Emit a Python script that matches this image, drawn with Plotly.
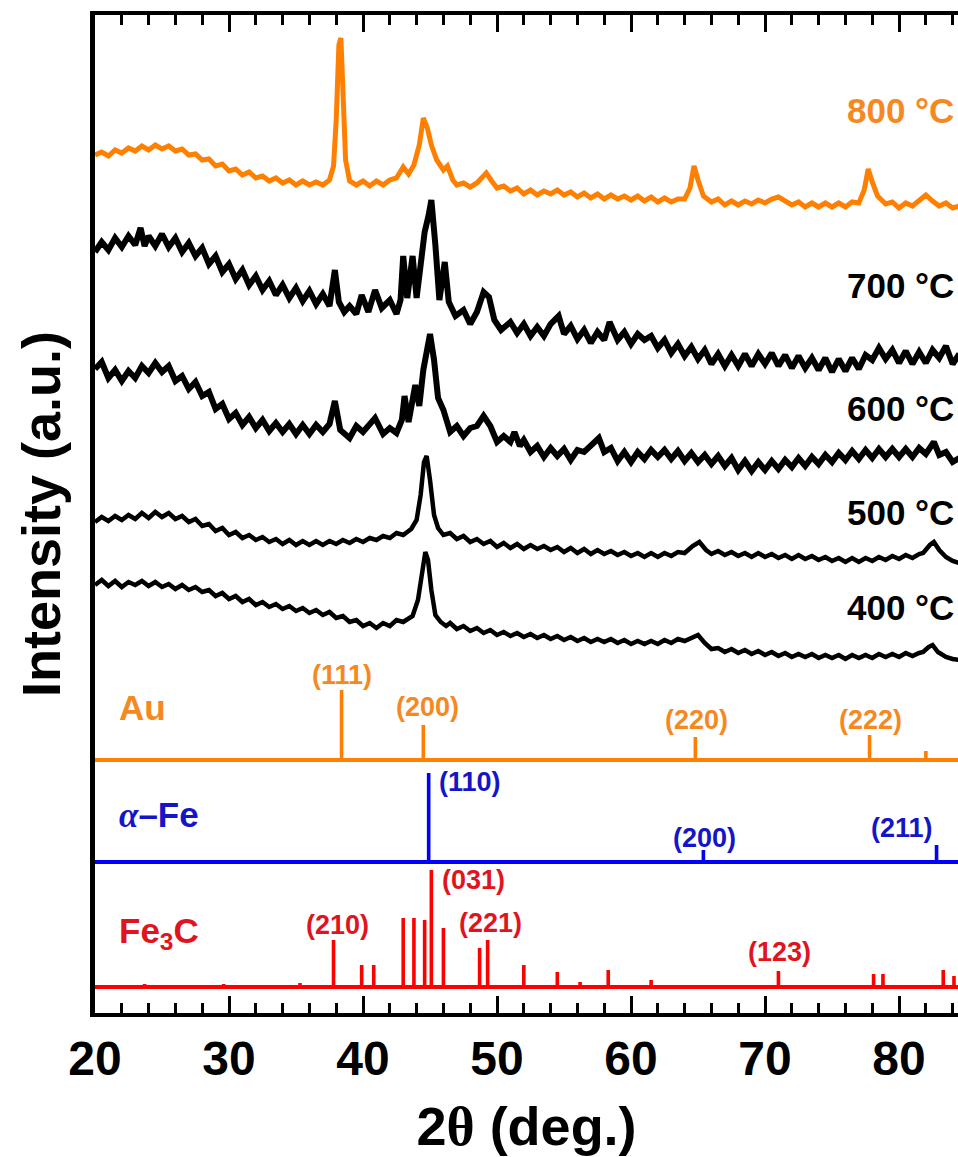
import plotly.graph_objects as go

# ---------------- data (2theta in degrees, intensity in arbitrary offset units) ----------------
tt_800 = [20,20.5,21,21.5,22,22.5,23,23.5,24,24.5,25,25.5,26,26.5,27,27.5,28,28.5,29,29.5,30,30.5,31,31.5,32,32.5,33,33.5,34,34.5,35,35.5,36,36.5,37,37.5,
          37.8,38.0,38.2,38.35,38.5,38.7,39,39.5,40,40.5,41,41.5,42,42.5,43,43.4,43.8,44.2,44.5,44.8,45.1,45.5,46,46.3,46.7,47,47.5,48,48.5,48.8,49.2,49.6,
          50,50.5,51,51.5,52,52.5,53,53.5,54,54.5,55,55.5,56,56.5,57,57.5,58,58.5,59,59.5,60,60.5,61,61.5,62,62.5,63,63.5,64,64.4,64.7,65.0,65.4,
          66,66.5,67,67.5,68,68.5,69,69.5,70,70.5,71,71.5,72,72.5,73,73.5,74,74.5,75,75.5,76,76.5,77,77.4,77.7,78.0,78.4,
          79,79.5,80,80.5,81,81.5,82,82.5,83,83.5,84,84.5]
int_800 = [858,861,857,863,860,865,862,867,863,868,864,867,862,864,858,859,853,854,847,849,842,844,838,841,835,837,832,835,830,833,828,832,828,831,828,833,
           847,893,968,975,923,853,832,828,832,827,832,828,833,835,846,839,848,868,895,885,868,853,843,847,833,828,830,826,830,834,840,832,
           825,827,822,825,819,823,818,822,819,823,818,821,816,820,815,819,814,818,814,817,813,817,812,816,811,815,811,814,814,825,847,833,817,
           811,814,808,812,808,812,809,813,810,814,816,812,808,811,806,810,806,810,806,810,806,811,810,823,844,831,817,
           809,811,805,810,807,813,818,812,807,810,805,807]

tt_700 = [20,20.5,21,21.5,22,22.5,23,23.4,23.7,24,24.5,25,25.5,26,26.5,27,27.5,28,28.5,29,29.5,30,30.5,31,31.5,32,32.5,33,33.5,34,34.5,35,35.5,36,36.5,37,37.5,
          37.9,38.2,38.6,39,39.5,39.9,40.4,40.9,41.4,42,42.5,42.8,43.0,43.3,43.7,44.0,44.3,44.6,44.9,45.1,45.4,45.7,46.1,46.4,46.9,47.5,48,48.5,
          49.0,49.4,49.8,50.3,51,51.5,52,52.5,53,53.5,54,54.6,55,55.5,56,56.5,57,57.5,58,58.4,
          59,59.5,60,60.5,61,61.5,62,62.5,63,63.5,64,64.5,65,65.5,66,66.5,67,67.5,68,68.5,69,69.5,70,70.5,71,71.5,72,72.5,73,73.5,
          74,74.5,75,75.5,76,76.5,77,77.5,78,78.5,79,79.5,80,80.5,81,81.5,82,82.5,83,83.5,84,84.5]
int_700 = [761,771,763,775,766,777,768,785,767,777,767,779,766,775,761,770,757,765,749,757,741,749,734,743,728,737,723,732,718,728,715,725,712,722,709,719,707,
           743,711,701,707,699,718,701,723,705,713,699,713,757,715,757,715,745,781,798,813,768,713,751,711,697,703,689,701,
           721,716,693,683,691,680,689,677,686,677,689,697,679,687,674,683,670,681,673,691,
           673,681,669,679,673,677,665,673,660,669,657,666,654,663,649,659,647,658,647,659,647,659,649,660,647,658,645,657,645,655,
           643,655,641,654,642,655,644,658,653,665,654,663,650,662,649,661,650,663,655,667,649,659]

tt_600 = [20,20.5,21,21.5,22,22.5,23,23.5,24,24.5,25,25.5,26,26.5,27,27.5,28,28.5,29,29.5,30,30.5,31,31.5,32,32.5,33,33.5,34,34.5,35,35.5,36,36.5,37,37.5,
          37.9,38.3,39,39.5,40,40.5,40.9,41.5,42,42.5,42.9,43.1,43.4,43.9,44.2,44.5,44.8,45.0,45.3,45.6,46.0,46.5,47,47.5,48,48.5,49.0,49.5,50,50.5,51,
          51.3,51.7,52,52.5,53,53.5,54,54.5,55,55.5,56,56.5,57,57.6,
          58,58.5,59,59.5,60,60.5,61,61.5,62,62.5,63,63.5,64,64.5,65,65.5,66,66.5,67,67.5,68,68.5,69,69.5,70,70.5,71,71.5,72,72.5,
          73,73.5,74,74.5,75,75.5,76,76.5,77,77.5,78,78.5,79,79.5,80,80.5,81,81.5,82,82.6,83,83.5,84,84.5]
int_600 = [644,651,635,643,632,642,635,647,640,650,641,647,632,637,624,631,617,621,604,609,594,600,588,596,585,593,582,590,581,589,579,588,579,588,581,589,
           612,583,575,587,581,588,595,579,585,580,593,617,591,628,607,643,668,679,653,615,603,581,587,577,585,587,597,587,571,577,571,
           581,567,573,561,567,556,565,557,564,553,563,561,568,575,
           561,565,552,561,551,561,554,563,556,563,554,562,552,560,551,558,549,557,547,555,543,552,542,551,543,552,544,553,546,555,
           547,556,549,558,551,560,553,562,554,563,555,564,556,564,556,564,556,565,559,571,558,561,551,555]

tt_500 = [20,20.5,21,21.5,22,22.5,23,23.5,24,24.5,25,25.5,26,26.5,27,27.5,28,28.5,29,29.5,30,30.5,31,31.5,32,32.5,33,33.5,34,34.5,35,35.5,36,36.5,37,37.5,
          38,38.5,39,39.5,40,40.5,41,41.5,42,42.5,43,43.6,44.0,44.3,44.55,44.75,45.0,45.3,45.6,
          46,46.5,47,47.5,48,48.5,49,49.5,50,50.5,51,51.5,52,52.5,53,53.5,54,54.5,55,55.5,56,56.5,57,57.5,58,58.5,59,59.5,60,60.5,61,61.5,62,62.5,63,63.5,64,
          64.6,65.1,65.6,66,66.5,67,67.5,68,68.5,69,69.5,70,70.5,71,71.5,72,72.5,73,73.5,74,74.5,75,75.5,76,76.5,77,77.5,78,78.5,79,79.5,80,80.5,81,81.5,
          81.8,82.3,82.6,83,83.5,84,84.5]
int_500 = [491,496,492,497,493,498,494,500,495,501,496,500,494,497,491,494,487,489,482,485,478,481,475,478,473,476,471,474,469,473,468,472,468,472,468,472,
           469,473,470,474,471,475,473,477,475,480,478,484,493,518,551,557,533,498,485,
           478,480,474,477,471,474,469,472,466,470,465,469,464,468,464,467,463,466,461,465,460,464,459,463,459,462,458,461,457,460,456,460,456,460,457,461,460,
           467,471,463,459,462,458,461,457,460,456,460,456,459,455,458,454,458,454,457,453,456,452,455,451,455,451,455,452,456,453,457,454,458,455,459,
           460,468,471,463,456,452,450]

tt_400 = [20,20.5,21,21.5,22,22.5,23,23.5,24,24.5,25,25.5,26,26.5,27,27.5,28,28.5,29,29.5,30,30.5,31,31.5,32,32.5,33,33.5,34,34.5,35,35.5,36,36.5,37,37.5,
          38,38.5,39,39.5,40,40.5,41,41.5,42,42.5,43,43.7,44.1,44.4,44.65,44.85,45.1,45.4,45.8,46.2,46.5,
          47,47.5,48,48.5,49,49.5,50,50.5,51,51.5,52,52.5,53,53.5,54,54.5,55,55.5,56,56.5,57,57.5,58,58.5,59,59.5,60,60.5,61,61.5,62,62.5,63,63.5,64,
          64.6,65.0,65.5,66,66.5,67,67.5,68,68.5,69,69.5,70,70.5,71,71.5,72,72.5,73,73.5,74,74.5,75,75.5,76,76.5,77,77.5,78,78.5,79,79.5,80,80.5,81,81.5,
          81.8,82.2,82.5,82.9,83.5,84,84.5]
int_400 = [428,433,427,432,426,431,428,432,427,431,426,429,424,428,423,426,421,423,417,420,414,417,411,414,408,411,406,409,404,407,402,405,400,403,398,401,
           395,397,391,393,387,390,385,390,387,393,391,397,413,443,461,453,423,398,391,387,390,
           384,387,382,385,380,383,378,381,377,380,376,379,375,378,374,377,373,376,372,375,371,374,371,374,370,373,369,372,369,372,369,373,370,374,372,
           376,378,370,364,365,361,364,360,363,359,362,358,361,357,360,356,359,356,359,355,358,355,358,354,358,355,358,355,359,356,359,356,360,357,360,
           361,366,368,361,356,354,353]

temp_labels = ["800 °C", "700 °C", "600 °C", "500 °C", "400 °C"]
temp_label_int = [903, 728, 605, 501, 406]

# reference stick patterns
au_pos = [38.4, 44.5, 64.8, 77.8, 82.0]
au_int = [70, 35, 23, 25, 9]
au_hkl = ["(111)", "(200)", "(220)", "(222)"]
au_hkl_pos = [38.45, 44.8, 64.9, 77.9]
au_hkl_int = [338, 306, 293, 293]

fe_pos = [44.9, 65.4, 82.8]
fe_int = [89, 12, 17]
fe_hkl = ["(110)", "(200)", "(211)"]
fe_hkl_pos = [48.0, 65.45, 80.2]
fe_hkl_int = [231, 175, 185]

fe3c_pos = [23.7, 29.6, 35.3, 37.8, 39.9, 40.8, 43.0, 43.8, 44.6, 45.1, 46.0, 48.7, 49.3,
            52.0, 54.5, 56.2, 58.3, 61.5, 71.0, 78.1, 78.8, 83.3, 84.1]
fe3c_int = [3, 3, 4, 47, 22, 22, 69, 69, 67, 117, 59, 39, 47,
            22, 15, 5, 17, 7, 16, 13, 13, 17, 11]
fe3c_hkl = ["(210)", "(031)", "(221)", "(123)"]
fe3c_hkl_pos = [38.1, 48.25, 49.5, 71.05]
fe3c_hkl_int = [88, 133, 90, 61]

phase_names = ["Au", '<i><span style="font-family:Liberation Serif">α</span></i>–Fe', "Fe<sub>3</sub>C"]
phase_base = [253, 151, 26]
phase_name_int = [306, 198, 80]

ORANGE = "#FF8000"
ORANGE_TXT = "#F5891F"
BLUE = "#0000FF"
BLUE_TXT = "#1414C8"
RED = "#FF0000"
RED_TXT = "#E0141E"
FONT = "Liberation Sans, Arial, sans-serif"
X_RANGE = [20, 84.4]

fig = go.Figure()

curves = [(tt_800, int_800, ORANGE, 5), (tt_700, int_700, "black", 6),
          (tt_600, int_600, "black", 6), (tt_500, int_500, "black", 4.5),
          (tt_400, int_400, "black", 4.5)]
for xs, ys, col, w in curves:
    assert len(xs) == len(ys), (len(xs), len(ys))
    fig.add_trace(go.Scatter(x=xs, y=ys, mode="lines", line=dict(color=col, width=w),
                             hoverinfo="skip"))

phases = [(au_pos, au_int, ORANGE), (fe_pos, fe_int, BLUE), (fe3c_pos, fe3c_int, RED)]
for (pos, inten, col), base in zip(phases, phase_base):
    fig.add_trace(go.Scatter(x=X_RANGE, y=[base, base], mode="lines",
                             line=dict(color=col, width=4), hoverinfo="skip"))
    fig.add_trace(go.Bar(x=pos, y=inten, base=[base] * len(pos), width=0.27,
                         marker=dict(color=col, line=dict(width=0))))

ann = []
for t, yv in zip(temp_labels, temp_label_int):
    col = ORANGE_TXT if t.startswith("800") else "black"
    ann.append(dict(x=0.998, xref="paper", y=yv, yref="y", text=t, showarrow=False,
                    xanchor="right", yanchor="middle",
                    font=dict(family=FONT, size=35, color=col, weight="bold")))

phase_txt_cols = [ORANGE_TXT, BLUE_TXT, RED_TXT]
for name, yv, col in zip(phase_names, phase_name_int, phase_txt_cols):
    ann.append(dict(x=0.025, xref="paper", y=yv, yref="y", text=name, showarrow=False,
                    xanchor="left", yanchor="middle",
                    font=dict(family=FONT, size=35, color=col, weight="bold")))

for labels, xs, ys, col in [(au_hkl, au_hkl_pos, au_hkl_int, ORANGE_TXT),
                            (fe_hkl, fe_hkl_pos, fe_hkl_int, BLUE_TXT),
                            (fe3c_hkl, fe3c_hkl_pos, fe3c_hkl_int, RED_TXT)]:
    for lab, xv, yv in zip(labels, xs, ys):
        ann.append(dict(x=xv, y=yv, xref="x", yref="y", text=lab, showarrow=False,
                        xanchor="center", yanchor="middle",
                        font=dict(family=FONT, size=27, color=col, weight="bold")))

fig.update_layout(
    width=958, height=1157,
    margin=dict(l=95, r=0, t=15, b=144, autoexpand=False),
    plot_bgcolor="white", paper_bgcolor="white",
    showlegend=False, barmode="overlay",
    annotations=ann,
    xaxis=dict(range=X_RANGE, showline=True, linewidth=4, linecolor="black", mirror="ticks",
               ticks="inside", ticklen=17, tickwidth=3, tickcolor="black",
               tick0=20, dtick=10, showgrid=False, zeroline=False,
               minor=dict(dtick=2, ticks="inside", ticklen=10, tickwidth=3, tickcolor="black"),
               tickfont=dict(family=FONT, size=48, color="black", weight="bold"),
               title=dict(text='2<span style="font-family:Liberation Serif">θ</span> (deg.)',
                          font=dict(family=FONT, size=54, color="black", weight="bold"),
                          standoff=28)),
    yaxis=dict(range=[0, 998], showline=True, linewidth=5, linecolor="black", mirror=False,
               ticks="", showticklabels=False, showgrid=False, zeroline=False,
               title=dict(text="Intensity (a.u.)",
                          font=dict(family=FONT, size=54, color="black", weight="bold"),
                          standoff=14)),
)

fig.write_html("out.html", config={"displayModeBar": False},
               post_script="document.body.style.margin='0';document.body.style.overflow='hidden';")
